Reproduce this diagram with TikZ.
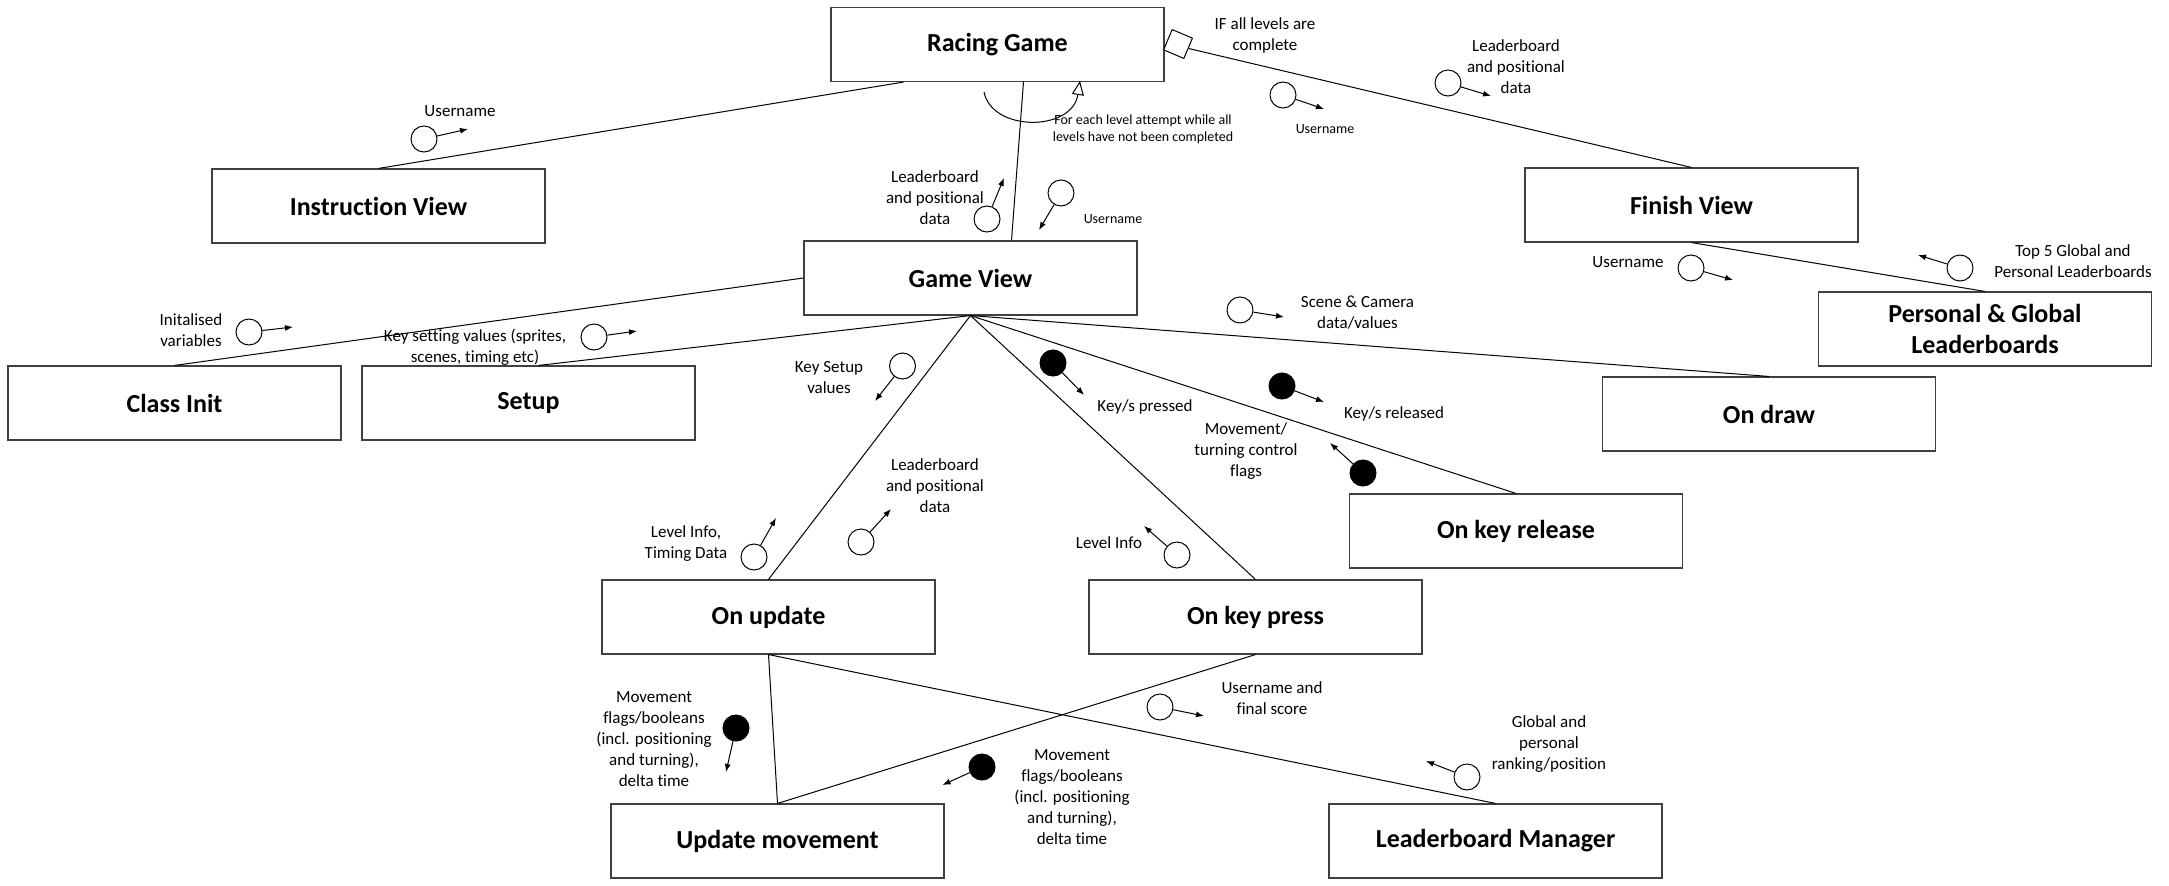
\documentclass[tikz,border=0pt]{standalone}
\usepackage{fontspec}
\setmainfont{Carlito}[Ligatures={NoCommon}]
\usetikzlibrary{arrows.meta}
\begin{document}
\begin{tikzpicture}[x=1pt,y=-1pt,
  box/.style={draw=black!75, line width=1.1pt, minimum width=333pt, minimum height=74pt, inner sep=0pt, align=center, font=\fontsize{26}{31}\selectfont\bfseries},
  lbl/.style={font=\fontsize{17}{21}\selectfont, align=center, inner sep=0pt},
  smalllbl/.style={font=\fontsize{14}{17}\selectfont, align=center, inner sep=0pt},
  dcirc/.style={circle, draw, line width=1pt, minimum size=26pt, inner sep=0pt},
  fcirc/.style={dcirc, fill=black},
  flow/.style={-{Latex[length=8pt,width=6pt]}, line width=1pt},
  link/.style={line width=1pt},
  decision/.style={draw, line width=1pt, rectangle, minimum size=22pt, inner sep=0pt, rotate=-23, fill=white}
]
\useasboundingbox (0,0) rectangle (2169,886);

% boxes
\node[box] (rg) at (997.5,44.5) {Racing Game};
\node[box] (iv) at (378.5,206) {Instruction View};
\node[box] (gv) at (970.5,278) {Game View};
\node[box] (fv) at (1691.5,205) {Finish View};
\node[box] (plb) at (1985,329) {Personal \& Global\\Leaderboards};
\node[box] (ci) at (174.5,403) {Class Init};
\node[box] (setup) at (528.5,403) {Setup};
\node[box] (od) at (1769,414) {On draw};
\node[box] (okr) at (1516,531) {On key release};
\node[box] (ou) at (768.5,617) {On update};
\node[box] (okp) at (1255.5,617) {On key press};
\node[box] (um) at (777.5,841) {Update movement};
\node[box] (lm) at (1495.5,841) {Leaderboard Manager};

% decision diamond
\node[decision] (dia) at (1178,44) {};

% connectors
\draw[link] (iv.north) -- ([xshift=-94pt]rg.south);
\draw[link] ([xshift=26pt]rg.south) -- ([xshift=41pt]gv.north);
\draw[link] (dia.east) -- (fv.north);
\draw[link] (fv.south) -- (plb.north);
\draw[link] (ci.north) -- (gv.west);
\draw[link] ([xshift=10pt]setup.north) -- (gv.south);
\draw[link] (gv.south) -- (ou.north);
\draw[link] (gv.south) -- (okp.north);
\draw[link] (gv.south) -- (okr.north);
\draw[link] (gv.south) -- (od.north);
\draw[link] (ou.south) -- (um.north);
\draw[link] (ou.south) -- (lm.north);
\draw[link] (okp.south) -- (um.north);

% loop
\coordinate (loopA) at (984,92);
\coordinate (loopB) at (1080,81);
\draw[line width=1pt, -{Triangle[open,length=14pt,width=12pt]}] (loopA) .. controls (992,132) and (1072,132) .. (loopB);
\node[smalllbl] (looplbl) at (1143,129.5) {For each level attempt while all\\levels have not been completed};

% data couples
\node[dcirc] (c1) at (424,139) {};   \coordinate (t1) at (468,129);
\node[dcirc] (c2) at (987,219) {};   \coordinate (t2) at (1004,178);
\node[dcirc] (c3) at (1061,193) {};  \coordinate (t3) at (1039,230);
\node[dcirc] (c4) at (1283,95) {};   \coordinate (t4) at (1324,109);
\node[dcirc] (c5) at (1448,83) {};   \coordinate (t5) at (1491,96);
\node[dcirc] (c6) at (1691,268) {};  \coordinate (t6) at (1733,280);
\node[dcirc] (c7) at (1960,268) {};  \coordinate (t7) at (1918,255);
\node[dcirc] (c8) at (249,332) {};   \coordinate (t8) at (293,327);
\node[dcirc] (c9) at (594,337) {};   \coordinate (t9) at (637,331);
\node[dcirc] (c10) at (902.5,366) {}; \coordinate (t10) at (875,401);
\node[dcirc] (c11) at (861,542) {};  \coordinate (t11) at (891,509);
\node[dcirc] (c12) at (754,557) {};  \coordinate (t12) at (776,518);
\node[fcirc] (c13) at (1053,363) {}; \coordinate (t13) at (1084,395);
\node[dcirc] (c14) at (1177,555) {}; \coordinate (t14) at (1144,526);
\node[dcirc] (c15) at (1240,310) {}; \coordinate (t15) at (1284,317);
\node[fcirc] (c16) at (1282,386) {}; \coordinate (t16) at (1324,402);
\node[fcirc] (c17) at (1363,473) {}; \coordinate (t17) at (1330,443);
\node[fcirc] (c18) at (736,728) {};  \coordinate (t18) at (726,772);
\node[fcirc] (c19) at (982,767) {};  \coordinate (t19) at (942.5,785);
\node[dcirc] (c20) at (1160,707) {}; \coordinate (t20) at (1204,716);
\node[dcirc] (c21) at (1467,777) {}; \coordinate (t21) at (1426,761);

\foreach \i in {1,...,21} { \draw[flow] (c\i) -- (t\i); }

% labels
\node[lbl] (l1) at (460,111) {Username};
\node[lbl] (l2) at (1265,35.5) {IF all levels are\\complete};
\node[smalllbl] (l3) at (1325,129) {Username};
\node[lbl] (l4) at (1516,67) {Leaderboard\\and positional\\data};
\node[lbl] (l5) at (935,198) {Leaderboard\\and positional\\data};
\node[smalllbl] (l6) at (1113,219) {Username};
\node[lbl] (l7) at (1628,262) {Username};
\node[lbl] (l8) at (2073,261.5) {Top 5 Global and\\Personal Leaderboards};
\node[lbl] (l9) at (191,330) {Initalised\\variables};
\node[lbl] (l10) at (475,347.5) {Key setting values (sprites,\\scenes, timing etc)};
\node[lbl] (l11) at (1357.5,313) {Scene \& Camera\\data/values};
\node[lbl] (l12) at (829,377.5) {Key Setup\\values};
\node[lbl] (l13) at (1145,407) {Key/s pressed};
\node[lbl] (l14) at (1394,414) {Key/s released};
\node[lbl] (l15) at (1246,451) {Movement/\\turning control\\flags};
\node[lbl] (l16) at (935,486) {Leaderboard\\and positional\\data};
\node[lbl] (l17) at (686,543.5) {Level Info,\\Timing Data};
\node[lbl] (l18) at (1109,543) {Level Info};
\node[lbl] (l19) at (654,739) {Movement\\flags/booleans\\(incl. positioning\\and turning),\\delta time};
\node[lbl] (l20) at (1072,797) {Movement\\flags/booleans\\(incl. positioning\\and turning),\\delta time};
\node[lbl] (l21) at (1272,698) {Username and\\final score};
\node[lbl] (l22) at (1549,744) {Global and\\personal\\ranking/position};
\end{tikzpicture}
\end{document}
